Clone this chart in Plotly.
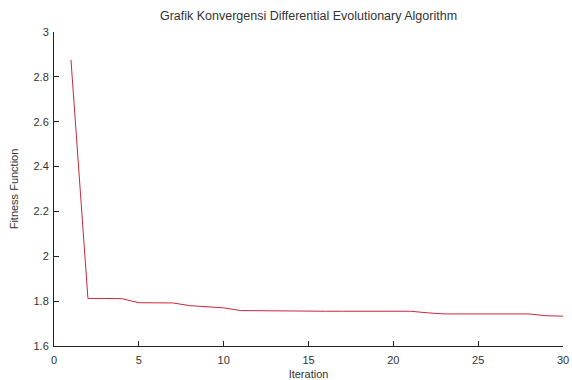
import plotly.graph_objects as go

iterations = list(range(1, 31))
fitness = [2.876, 1.812, 1.812, 1.811, 1.793, 1.793, 1.792, 1.780, 1.776, 1.770,
           1.758, 1.757, 1.755, 1.755, 1.755, 1.755, 1.755, 1.755, 1.755, 1.755,
           1.755, 1.748, 1.743, 1.743, 1.743, 1.743, 1.743, 1.743, 1.735, 1.733]
x_ticks = [0, 5, 10, 15, 20, 25, 30]
y_ticks = [1.6, 1.8, 2, 2.2, 2.4, 2.6, 2.8, 3]
y_tick_text = ["1.6", "1.8", "2", "2.2", "2.4", "2.6", "2.8", "3"]

FONT = dict(family="Liberation Sans, Arial", size=11, color="#333")

fig = go.Figure()
fig.add_trace(go.Scatter(x=iterations, y=fitness, mode="lines",
                         line=dict(color="#c8283c", width=1)))

axis_common = dict(showgrid=False, zeroline=False, showline=True, linecolor="#222",
                   linewidth=1, ticks="inside", ticklen=5, tickcolor="#222",
                   automargin=False, tickfont=FONT, ticklabeloverflow="allow")
fig.update_layout(
    width=572, height=380,
    margin=dict(l=54, r=9, t=32, b=34, autoexpand=False),
    paper_bgcolor="white", plot_bgcolor="white",
    showlegend=False,
    title=dict(text="Grafik Konvergensi Differential Evolutionary Algorithm",
               x=0.5, xref="paper", y=1 - 16 / 380, yref="container", yanchor="middle",
               font=dict(family="Liberation Sans, Arial", size=12.5, color="#333"),
               automargin=False),
    xaxis=dict(range=[0, 30], tickvals=x_ticks, ticklabelstandoff=4,
               title=dict(text="Iteration", standoff=8, font=FONT),
               **axis_common),
    yaxis=dict(range=[1.6, 3], tickvals=y_ticks, ticktext=y_tick_text, ticklabelstandoff=2,
               title=dict(text="Fitness Function", standoff=12, font=FONT),
               **axis_common),
)
fig.write_html("out.html", config={"displayModeBar": False},
               post_script="document.body.style.margin='0';")
